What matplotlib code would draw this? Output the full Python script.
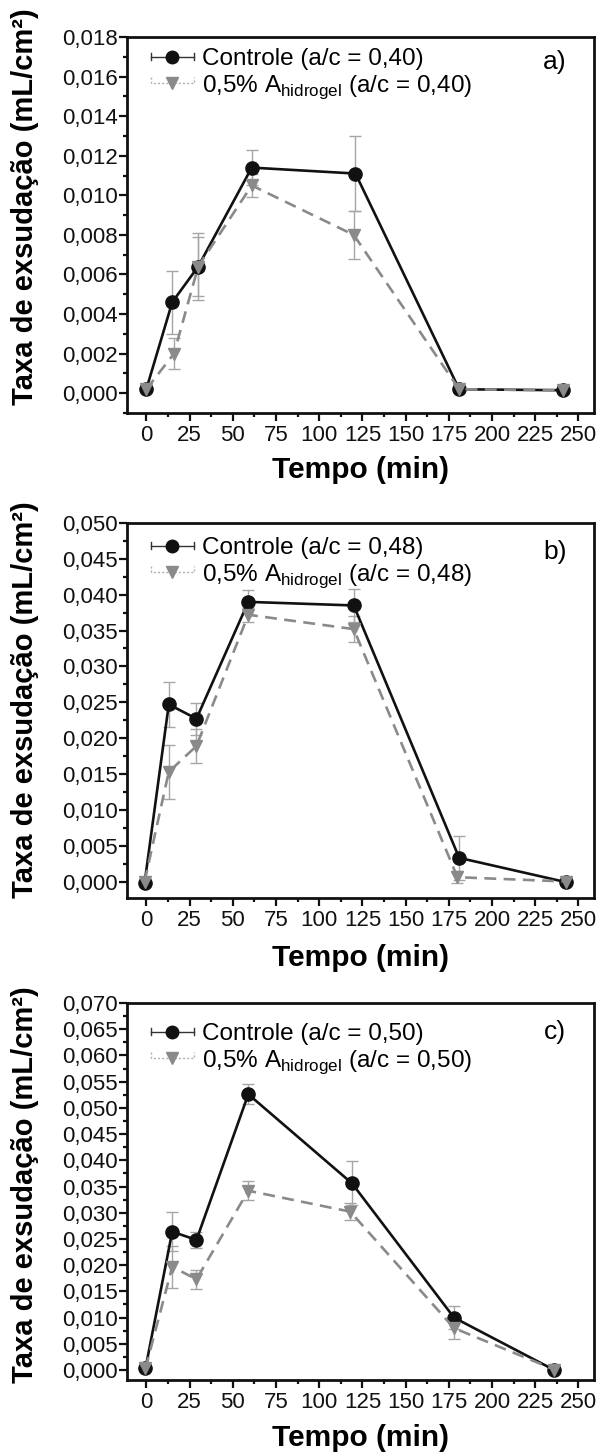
import matplotlib
matplotlib.use("Agg")
import matplotlib.pyplot as plt
from matplotlib.lines import Line2D
from matplotlib.legend_handler import HandlerBase
from matplotlib.ticker import MultipleLocator, FuncFormatter

plt.rcParams['font.family'] = ['Liberation Sans', 'DejaVu Sans']
plt.rcParams['mathtext.fontset'] = 'custom'
plt.rcParams['mathtext.rm'] = 'Liberation Sans'

# ---------------- data ----------------
# panel a (a/c = 0,40)
t_a_ctrl = [0, 15, 30, 61, 121, 181, 241]
ctrl_a = [0.0002, 0.0046, 0.0064, 0.0114, 0.0111, 0.0002, 0.00015]
ctrl_a_err = [0.0, 0.0016, 0.0017, 0.0009, 0.0019, 0.0, 0.0]
t_a_hid = [0, 16, 30, 61, 120, 181, 241]
hid_a = [0.0002, 0.0020, 0.0064, 0.0105, 0.0080, 0.0002, 0.00015]
hid_a_err = [0.0, 0.0008, 0.0015, 0.0006, 0.0012, 0.0, 0.0]

# panel b (a/c = 0,48)
t_b_ctrl = [-1, 13, 29, 59, 120, 181, 243]
ctrl_b = [-0.0002, 0.0247, 0.0227, 0.0390, 0.0385, 0.0033, -0.0001]
ctrl_b_err = [0.0, 0.0031, 0.0022, 0.0017, 0.0023, 0.0031, 0.0]
t_b_hid = [-1, 13, 29, 59, 120, 180, 243]
hid_b = [0.0000, 0.0153, 0.0189, 0.0372, 0.0352, 0.0006, 0.0000]
hid_b_err = [0.0003, 0.0038, 0.0024, 0.0010, 0.0018, 0.0008, 0.0]

# panel c (a/c = 0,50)
t_c_ctrl = [-0.5, 15, 29, 59, 119, 178, 236]
ctrl_c = [0.0003, 0.0264, 0.0248, 0.0526, 0.0356, 0.0100, 0.0000]
ctrl_c_err = [0.0, 0.0037, 0.0015, 0.0019, 0.0042, 0.0022, 0.0]
t_c_hid = [-0.5, 15, 29, 59, 118, 178, 236]
hid_c = [0.0003, 0.0197, 0.0173, 0.0342, 0.0302, 0.0080, 0.0001]
hid_c_err = [0.0, 0.0040, 0.0018, 0.0018, 0.0016, 0.0021, 0.0]

panel_tags = ['a)', 'b)', 'c)']
ratios = ['0,40', '0,48', '0,50']
y_limits = [(-0.0010, 0.018), (-0.0023, 0.050), (-0.0019, 0.070)]
y_major = [0.002, 0.005, 0.005]
x_ticks = [0, 25, 50, 75, 100, 125, 150, 175, 200, 225, 250]

# ---------------- styles ----------------
BLACK = '#111111'
GRAY = '#8a8a8a'
ERR = '#a6a6a6'


class HandlerCtrl(HandlerBase):
    def create_artists(self, legend, orig_handle, xdescent, ydescent,
                       width, height, fontsize, trans):
        y = height / 2 - ydescent
        x0, x1 = -xdescent, width - xdescent
        h = height * 0.22
        arts = [
            Line2D([x0, x1], [y, y], color='#333333', lw=1.0),
            Line2D([x0, x0], [y - h, y + h], color='#333333', lw=1.0),
            Line2D([x1, x1], [y - h, y + h], color='#333333', lw=1.0),
            Line2D([(x0 + x1) / 2], [y], marker='o', ms=9, color=BLACK,
                   mec=BLACK, ls='none'),
        ]
        for a in arts:
            a.set_transform(trans)
        return arts


class HandlerHid(HandlerBase):
    def create_artists(self, legend, orig_handle, xdescent, ydescent,
                       width, height, fontsize, trans):
        y = height / 2 - ydescent
        x0, x1 = -xdescent, width - xdescent
        h = height * 0.35
        arts = [
            Line2D([x0, x0, x1, x1], [y + h, y, y, y + h], color='#b0b0b0',
                   lw=1.0, ls=(0, (1.5, 1.5))),
            Line2D([(x0 + x1) / 2], [y], marker='v', ms=8, color=GRAY,
                   mec=GRAY, ls='none'),
        ]
        for a in arts:
            a.set_transform(trans)
        return arts


fig = plt.figure(figsize=(6.01, 14.54), dpi=100)

W, H = 601.0, 1454.0
ax_left, ax_right = 127.3, 594.0
ax_tops = [37, 523, 1003]
ax_bottoms = [413, 898, 1380]
ylabel_centers = [207, 700, 1185]
xlabel_centers = [470, 958, 1438]
tag_y = [62, 552, 1032]
legend_top = [48, 537, 1023]

data = [
    (t_a_ctrl, ctrl_a, ctrl_a_err, t_a_hid, hid_a, hid_a_err),
    (t_b_ctrl, ctrl_b, ctrl_b_err, t_b_hid, hid_b, hid_b_err),
    (t_c_ctrl, ctrl_c, ctrl_c_err, t_c_hid, hid_c, hid_c_err),
]

fmt = FuncFormatter(lambda v, p: ('%.3f' % v).replace('.', ','))

for i in range(3):
    tc, yc, ec, th, yh, eh = data[i]
    top, bot = ax_tops[i], ax_bottoms[i]
    ax = fig.add_axes([ax_left / W, 1 - bot / H, (ax_right - ax_left) / W,
                       (bot - top) / H])

    # error bars (light gray)
    ax.errorbar(tc, yc, yerr=ec, fmt='none', ecolor=ERR, elinewidth=1.0,
                capsize=4.5, capthick=1.0, zorder=2)
    ax.errorbar(th, yh, yerr=eh, fmt='none', ecolor=ERR, elinewidth=1.0,
                capsize=4.5, capthick=1.0, zorder=2)
    # series
    ax.plot(tc, yc, color=BLACK, lw=1.9, marker='o', ms=9.5, mfc=BLACK,
            mec=BLACK, zorder=3)
    ax.plot(th, yh, color=GRAY, lw=1.9, ls=(0, (4.5, 2.8)), marker='v',
            ms=8, mfc=GRAY, mec=GRAY, zorder=4)

    ax.set_xlim(-11, 259)
    ax.set_ylim(*y_limits[i])
    ax.xaxis.set_major_locator(MultipleLocator(25))
    ax.xaxis.set_minor_locator(MultipleLocator(12.5))
    ax.set_xticks(x_ticks)
    ax.yaxis.set_major_locator(MultipleLocator(y_major[i]))
    ax.yaxis.set_minor_locator(MultipleLocator(y_major[i] / 2))
    ax.yaxis.set_major_formatter(fmt)

    for s in ax.spines.values():
        s.set_linewidth(2.0)
        s.set_color(BLACK)
    ax.tick_params(axis='both', which='major', direction='out', length=5.5,
                   width=1.6, labelsize=16, colors=BLACK, pad=1.5)
    ax.tick_params(axis='both', which='minor', direction='out', length=3,
                   width=1.6, colors=BLACK)
    ax.tick_params(axis='x', which='major', pad=3)
    ax.tick_params(top=False, right=False, which='both')

    ax.set_xlabel('Tempo (min)', fontsize=21.5, fontweight='bold', va='center')
    ax.xaxis.set_label_coords(0.5, (bot - xlabel_centers[i]) / (bot - top))
    ax.set_ylabel('Taxa de exsudação (mL/cm²)', fontsize=21,
                  fontweight='bold', va='center', ha='center')
    ax.yaxis.set_label_coords((25 - ax_left) / (ax_right - ax_left),
                              (bot - ylabel_centers[i]) / (bot - top))

    ax.text((555 - ax_left) / (ax_right - ax_left),
            (bot - tag_y[i]) / (bot - top), panel_tags[i],
            transform=ax.transAxes, ha='center', va='center', fontsize=19)

    h1 = Line2D([], [])
    h2 = Line2D([], [], ls='--')
    labels = ['Controle (a/c = ' + ratios[i] + ')',
              r'0,5% A$_{\mathregular{hidrogel}}$ (a/c = ' + ratios[i] + ')']
    ax.legend([h1, h2], labels,
              handler_map={h1: HandlerCtrl(), h2: HandlerHid()},
              loc='upper left',
              bbox_to_anchor=((151 - ax_left) / (ax_right - ax_left),
                              (bot - legend_top[i]) / (bot - top)),
              frameon=False, fontsize=17.5, handlelength=1.75,
              handletextpad=0.35, labelspacing=0.12, borderpad=0,
              borderaxespad=0)

fig.savefig('out.png', dpi=100)
